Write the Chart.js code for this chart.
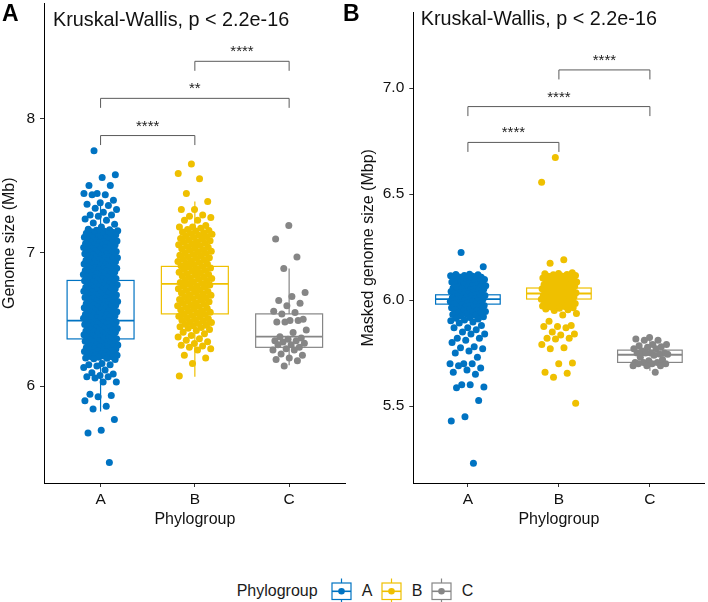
<!DOCTYPE html>
<html>
<head>
<meta charset="utf-8">
<script src="https://cdn.jsdelivr.net/npm/chart.js"></script>
<style>
  html, body { margin: 0; padding: 0; background: #fff; }
  body { width: 708px; height: 602px; position: relative; overflow: hidden; font-family: "Liberation Sans", Arial, sans-serif; }
  canvas { position: absolute; top: 0; }
  #panelA { left: 0; }
  #panelB { left: 354px; }
  .tag { position: absolute; font-weight: bold; font-size: 23px; line-height: 23px; color: #000; }
  .leg { position: absolute; font-size: 16px; line-height: 16px; color: #1a1a1a; white-space: nowrap; }
  .key { position: absolute; }
</style>
</head>
<body>
<canvas id="panelA" width="354" height="530"></canvas>
<canvas id="panelB" width="354" height="530"></canvas>
<div class="tag" style="left:2px;top:2.2px">A</div>
<div class="tag" style="left:343px;top:2.2px">B</div>
<div id="legend"></div>
<script>
// categories + colours (jco palette)
const groups = ["A", "B", "C"];
const groupColors = ["#0073C2", "#EFC000", "#868686"];

// panel A: genome size (Mb), one array per phylogroup
const genomeA = [
  7.76, 7.58, 7.56, 7.50, 7.50, 7.44, 7.44, 7.43, 7.43, 7.39, 7.37, 7.36, 7.35, 7.33, 7.32, 7.30, 7.28, 7.28,
  7.27, 7.25, 7.24, 7.22, 7.21, 7.19,
  7.172, 7.168, 7.165, 7.161, 7.157, 7.154, 7.150, 7.146, 7.143, 7.139, 7.135, 7.132, 7.128, 7.124, 7.121,
  7.117, 7.113, 7.110, 7.106, 7.102, 7.099, 7.095, 7.091, 7.088, 7.084, 7.080, 7.077, 7.073, 7.069, 7.066,
  7.062, 7.058, 7.055, 7.051, 7.047, 7.044, 7.040, 7.036, 7.033, 7.029, 7.025, 7.022, 7.018, 7.014, 7.011,
  7.007, 7.003, 7.000, 6.996, 6.992, 6.989, 6.985, 6.981, 6.978, 6.974, 6.970, 6.967, 6.963, 6.959, 6.956,
  6.952, 6.948, 6.945, 6.941, 6.937, 6.934, 6.930, 6.926, 6.923, 6.919, 6.915, 6.912, 6.908, 6.904, 6.901,
  6.897, 6.893, 6.890, 6.886, 6.882, 6.879, 6.875, 6.871, 6.868, 6.864, 6.860, 6.857, 6.853, 6.849, 6.846,
  6.842, 6.838, 6.835, 6.831, 6.827, 6.824, 6.820, 6.816, 6.813, 6.809, 6.805, 6.802, 6.798, 6.794, 6.791,
  6.787, 6.783, 6.780, 6.776, 6.772, 6.769, 6.765, 6.761, 6.758, 6.754, 6.750, 6.747, 6.743, 6.739, 6.736,
  6.732, 6.728, 6.725, 6.721, 6.717, 6.714, 6.710, 6.706, 6.703, 6.699, 6.695, 6.692, 6.688, 6.684, 6.681,
  6.677, 6.673, 6.670, 6.666, 6.662, 6.659, 6.655, 6.651, 6.648, 6.644, 6.640, 6.637, 6.633, 6.629, 6.626,
  6.622, 6.618, 6.615, 6.611, 6.607, 6.604, 6.600, 6.596, 6.593, 6.589, 6.585, 6.582, 6.578, 6.574, 6.571,
  6.567, 6.563, 6.560, 6.556, 6.552, 6.549, 6.545, 6.541, 6.538, 6.534, 6.530, 6.527, 6.523, 6.519, 6.516,
  6.512, 6.508, 6.505, 6.501, 6.497, 6.494, 6.490, 6.486, 6.483, 6.479, 6.475, 6.472, 6.468, 6.464, 6.461,
  6.457, 6.453, 6.450, 6.446, 6.442, 6.439, 6.435, 6.431, 6.428, 6.424, 6.420, 6.417, 6.413, 6.409, 6.406,
  6.402, 6.398, 6.395, 6.391, 6.387, 6.384, 6.380, 6.376, 6.373, 6.369, 6.365, 6.362, 6.358, 6.354, 6.351,
  6.347, 6.343, 6.340, 6.336, 6.332, 6.329, 6.325, 6.321, 6.318, 6.314, 6.310, 6.307, 6.303, 6.299, 6.296,
  6.292, 6.288, 6.285, 6.281, 6.277, 6.274, 6.270, 6.266, 6.263, 6.259, 6.255, 6.252, 6.248, 6.244, 6.241,
  6.237, 6.233, 6.230, 6.226, 6.222, 6.219, 6.215, 6.211, 6.208, 6.204, 6.200,
  6.17, 6.16, 6.16, 6.15, 6.14, 6.12, 6.10, 6.09, 6.08, 6.07, 6.07, 6.06, 6.03, 6.03, 5.94, 5.93, 5.92,
  5.89, 5.85, 5.83, 5.75, 5.67, 5.65, 5.43
];
const genomeB = [
  7.66, 7.59, 7.55, 7.44, 7.38, 7.32, 7.32, 7.28, 7.27, 7.26, 7.24, 7.24, 7.20, 7.19, 7.19, 7.18,
  7.170, 7.164, 7.159, 7.152, 7.147, 7.140, 7.135, 7.128, 7.123, 7.116, 7.111, 7.104, 7.099, 7.092, 7.087,
  7.080, 7.075, 7.068, 7.063, 7.056, 7.051, 7.044, 7.039, 7.032, 7.027, 7.020, 7.015, 7.008, 7.003, 6.996,
  6.991, 6.984, 6.979, 6.972, 6.967, 6.960, 6.955, 6.948, 6.943, 6.936, 6.931, 6.924, 6.919, 6.912, 6.907,
  6.900, 6.895, 6.888, 6.883, 6.876, 6.871, 6.864, 6.859, 6.852, 6.847, 6.840, 6.835, 6.828, 6.823, 6.816,
  6.811, 6.804, 6.799, 6.792, 6.787, 6.780, 6.775, 6.768, 6.763, 6.756, 6.751, 6.744, 6.739, 6.732, 6.727,
  6.720, 6.715, 6.708, 6.703, 6.696, 6.691, 6.684, 6.679, 6.672, 6.667, 6.660, 6.655, 6.648, 6.643, 6.636,
  6.631, 6.624, 6.619, 6.612, 6.607, 6.600, 6.595, 6.588, 6.583, 6.576, 6.571, 6.564, 6.559, 6.552, 6.547,
  6.540, 6.535, 6.528, 6.523, 6.516, 6.511, 6.504, 6.499, 6.492, 6.487, 6.480, 6.475, 6.468, 6.463, 6.456,
  6.451, 6.444, 6.439, 6.432, 6.424, 6.415, 6.403, 6.391, 6.379, 6.367, 6.355, 6.343, 6.331, 6.319, 6.305,
  6.30, 6.29, 6.28, 6.27, 6.23, 6.21, 6.17, 6.075
];
const genomeC = [
  7.20, 7.10, 6.965, 6.88, 6.70, 6.67, 6.64, 6.62, 6.60, 6.56, 6.55, 6.54, 6.50, 6.49, 6.48, 6.49, 6.48,
  6.42, 6.40, 6.37, 6.36, 6.35, 6.34, 6.34, 6.33, 6.32, 6.31, 6.31, 6.29, 6.28, 6.27, 6.27, 6.24, 6.23,
  6.21, 6.20, 6.19, 6.15
];
// box stats per phylogroup: [lower whisker, q1, median, q3, upper whisker]
const genomeBoxes = [
  [5.81, 6.353, 6.49, 6.79, 7.39],
  [6.07, 6.54, 6.765, 6.895, 7.38],
  [6.157, 6.29, 6.37, 6.54, 6.88]
];
const genomeTicks = [6, 7, 8];
const genomeTests = [
  { from: 1, to: 2, y: 7.873, label: "****" },
  { from: 1, to: 3, y: 8.151, label: "**" },
  { from: 2, to: 3, y: 8.428, label: "****" }
];

// panel B: masked genome size (Mbp)
const maskedA = [
  6.224, 6.157, 6.122,
  6.121, 6.119, 6.116, 6.115, 6.112, 6.109, 6.108, 6.105, 6.103, 6.101, 6.098, 6.097, 6.094, 6.092, 6.090,
  6.088, 6.085, 6.084, 6.081, 6.079, 6.077, 6.074, 6.073, 6.070, 6.068, 6.066, 6.063, 6.062, 6.059, 6.057,
  6.055, 6.052, 6.051, 6.048, 6.046, 6.044, 6.041, 6.040, 6.037, 6.035, 6.033, 6.030, 6.029, 6.026, 6.024,
  6.022, 6.019, 6.018, 6.015, 6.013, 6.011, 6.008, 6.007, 6.004, 6.002, 6.000, 5.997, 5.996, 5.993, 5.991,
  5.989, 5.986, 5.985, 5.982, 5.980, 5.978, 5.975, 5.974, 5.971, 5.969, 5.967, 5.964, 5.963, 5.960, 5.958,
  5.956, 5.953, 5.951, 5.948, 5.946, 5.943, 5.940, 5.938, 5.935, 5.932, 5.929, 5.925, 5.922, 5.918, 5.914,
  5.911, 5.906, 5.902, 5.897, 5.892,
  5.88, 5.87, 5.87, 5.86, 5.85, 5.84, 5.84, 5.82, 5.82, 5.81, 5.80, 5.78, 5.775, 5.77, 5.76, 5.75, 5.73,
  5.70, 5.70, 5.70, 5.69, 5.68, 5.67, 5.66, 5.65, 5.60, 5.59, 5.60, 5.586, 5.526, 5.45, 5.43, 5.23
];
const maskedB = [
  6.673, 6.556, 6.19, 6.174,
  6.129, 6.126, 6.124, 6.121, 6.119, 6.116, 6.114, 6.112, 6.109, 6.107, 6.104, 6.102, 6.100, 6.097, 6.095,
  6.092, 6.090, 6.088, 6.085, 6.083, 6.080, 6.078, 6.076, 6.073, 6.071, 6.068, 6.066, 6.064, 6.061, 6.059,
  6.056, 6.054, 6.052, 6.049, 6.047, 6.044, 6.042, 6.040, 6.037, 6.035, 6.032, 6.030, 6.028, 6.025, 6.023,
  6.020, 6.018, 6.016, 6.013, 6.011, 6.008, 6.006, 6.004, 6.001, 5.999, 5.996, 5.994, 5.992, 5.989, 5.987,
  5.984, 5.982, 5.980, 5.977, 5.975, 5.972, 5.970, 5.967, 5.964, 5.961, 5.958, 5.955, 5.951,
  5.937, 5.93, 5.90, 5.88, 5.875, 5.875, 5.87, 5.85, 5.84, 5.835, 5.82, 5.82, 5.816, 5.79, 5.775, 5.77,
  5.703, 5.70, 5.66, 5.655, 5.636, 5.513
];
const maskedC = [
  5.824, 5.816, 5.81, 5.81, 5.79, 5.79, 5.785, 5.78, 5.777, 5.77, 5.77, 5.76, 5.75, 5.75, 5.75, 5.746,
  5.75, 5.745, 5.74, 5.73, 5.72, 5.714, 5.706, 5.706, 5.706, 5.70, 5.70, 5.70, 5.69, 5.69, 5.69, 5.66
];
const maskedBoxes = [
  [5.93, 5.981, 6.005, 6.025, 6.09],
  [5.97, 6.005, 6.031, 6.057, 6.11],
  [5.667, 5.706, 5.742, 5.764, 5.817]
];
const maskedTicks = [5.5, 6.0, 6.5, 7.0];
const maskedTests = [
  { from: 1, to: 2, y: 6.744, label: "****" },
  { from: 1, to: 3, y: 6.913, label: "****" },
  { from: 2, to: 3, y: 7.086, label: "****" }
];

const testTitle = "Kruskal-Wallis, p < 2.2e-16";
const FONT = '"Liberation Sans", Arial, Helvetica, sans-serif';

// deterministic horizontal spread for the jittered points
function jitter(j) {
  return ((j * 0.6180339887 + 0.31) % 1) * 2 - 1;
}

function boxPlugin(stats) {
  return {
    id: "boxes",
    beforeDatasetsDraw(chart) {
      const { ctx } = chart;
      const x = chart.scales.x, y = chart.scales.y;
      stats.forEach((s, i) => {
        const [lo, q1, med, q3, hi] = s;
        const cx = x.getPixelForValue(i + 1);
        const hw = x.getPixelForValue(i + 1.355) - cx;
        const top = y.getPixelForValue(q3), bot = y.getPixelForValue(q1);
        ctx.save();
        ctx.strokeStyle = groupColors[i];
        ctx.lineWidth = 1.2;
        ctx.beginPath();
        ctx.moveTo(cx, y.getPixelForValue(hi));
        ctx.lineTo(cx, top);
        ctx.moveTo(cx, bot);
        ctx.lineTo(cx, y.getPixelForValue(lo));
        ctx.stroke();
        ctx.fillStyle = "#fff";
        ctx.fillRect(cx - hw, top, hw * 2, bot - top);
        ctx.strokeRect(cx - hw, top, hw * 2, bot - top);
        const m = y.getPixelForValue(med);
        ctx.lineWidth = 1.8;
        ctx.beginPath();
        ctx.moveTo(cx - hw, m);
        ctx.lineTo(cx + hw, m);
        ctx.stroke();
        ctx.restore();
      });
    }
  };
}

function notePlugin(tests, titleDx, titleBase) {
  return {
    id: "notes",
    afterDatasetsDraw(chart) {
      const { ctx, chartArea } = chart;
      const x = chart.scales.x, y = chart.scales.y;
      ctx.save();
      tests.forEach(t => {
        const x1 = x.getPixelForValue(t.from), x2 = x.getPixelForValue(t.to);
        const yp = y.getPixelForValue(t.y);
        ctx.strokeStyle = "#5a5a5a";
        ctx.lineWidth = 1;
        ctx.beginPath();
        ctx.moveTo(x1, yp + 9.5);
        ctx.lineTo(x1, yp);
        ctx.lineTo(x2, yp);
        ctx.lineTo(x2, yp + 9.5);
        ctx.stroke();
        ctx.fillStyle = "#222";
        ctx.font = "15px " + FONT;
        ctx.textAlign = "center";
        ctx.textBaseline = "alphabetic";
        ctx.fillText(t.label, (x1 + x2) / 2, yp - 5);
      });
      ctx.fillStyle = "#111";
      ctx.font = "19.8px " + FONT;
      ctx.textAlign = "left";
      ctx.fillText(testTitle, chartArea.left + titleDx, titleBase);
      ctx.restore();
    }
  };
}

function makePanel(id, p) {
  const datasets = p.values.map((vals, i) => ({
    data: vals.map((v, j) => ({ x: i + 1 + p.jitterW * jitter(j + 5 * i), y: v })),
    backgroundColor: groupColors[i],
    borderWidth: 0,
    pointRadius: 3.5,
    pointHoverRadius: 3.5
  }));
  return new Chart(document.getElementById(id), {
    type: "scatter",
    data: { datasets },
    options: {
      responsive: false,
      animation: false,
      devicePixelRatio: 1,
      layout: { padding: { left: 0, right: p.padRight, top: p.padTop, bottom: 0 } },
      plugins: { legend: { display: false }, tooltip: { enabled: false } },
      scales: {
        x: {
          type: "linear",
          min: 0.4,
          max: 3.6,
          afterBuildTicks: s => { s.ticks = [1, 2, 3].map(v => ({ value: v })); },
          ticks: {
            callback: v => groups[v - 1],
            autoSkip: false,
            maxRotation: 0,
            padding: 3,
            color: "#111",
            font: { family: FONT, size: 15.5 }
          },
          grid: { drawOnChartArea: false, drawTicks: true, tickLength: 4, color: "#333" },
          border: { display: true, color: "#000", width: 1 },
          title: {
            display: true,
            text: "Phylogroup",
            color: "#111",
            font: { family: FONT, size: 16 },
            padding: { top: 0, bottom: 1 }
          },
          afterFit: s => { s.height = 47; s.paddingLeft = 0; s.paddingRight = 0; }
        },
        y: {
          min: p.yMin,
          max: p.yMax,
          afterBuildTicks: s => { s.ticks = p.yTicks.map(v => ({ value: v })); },
          ticks: {
            callback: v => v.toFixed(p.digits),
            padding: 5,
            color: "#111",
            font: { family: FONT, size: 15.5 }
          },
          grid: { drawOnChartArea: false, drawTicks: true, tickLength: 4, color: "#333" },
          border: { display: true, color: "#000", width: 1 },
          title: {
            display: true,
            text: p.yTitle,
            color: "#111",
            font: { family: FONT, size: 16 },
            padding: { top: p.yTitlePad, bottom: 0 }
          },
          afterFit: s => { s.width = p.yWidth; s.paddingTop = 0; s.paddingBottom = 0; }
        }
      }
    },
    plugins: [boxPlugin(p.boxes), notePlugin(p.tests, p.titleDx, p.titleBase)]
  });
}

makePanel("panelA", {
  values: [genomeA, genomeB, genomeC],
  boxes: genomeBoxes,
  tests: genomeTests,
  yTicks: genomeTicks,
  digits: 0,
  yMin: 5.276,
  yMax: 8.86,
  yTitle: "Genome size (Mb)",
  yTitlePad: 0,
  yWidth: 44,
  padTop: 3,
  padRight: 8.3,
  jitterW: 0.183,
  titleDx: 9,
  titleBase: 25.5
});

makePanel("panelB", {
  values: [maskedA, maskedB, maskedC],
  boxes: maskedBoxes,
  tests: maskedTests,
  yTicks: maskedTicks,
  digits: 1,
  yMin: 5.137,
  yMax: 7.356,
  yTitle: "Masked genome size (Mbp)",
  yTitlePad: 4.8,
  yWidth: 59.3,
  padTop: 12.7,
  padRight: 1.7,
  jitterW: 0.197,
  titleDx: 7.4,
  titleBase: 25
});

// shared legend under both panels
(function buildLegend() {
  const host = document.getElementById("legend");
  const title = document.createElement("div");
  title.className = "leg";
  title.style.left = "236.7px";
  title.style.top = "582.5px";
  title.textContent = "Phylogroup";
  host.appendChild(title);
  groups.forEach((g, i) => {
    const left = 331.7 + i * 50;
    const c = groupColors[i];
    const key = document.createElementNS("http://www.w3.org/2000/svg", "svg");
    key.setAttribute("class", "key");
    key.setAttribute("width", "21");
    key.setAttribute("height", "26");
    key.style.left = (left - 1) + "px";
    key.style.top = "577.5px";
    key.innerHTML =
      '<line x1="10.5" y1="0.5" x2="10.5" y2="25.5" stroke="' + c + '" stroke-width="1.2"/>' +
      '<rect x="1" y="5" width="19" height="16.5" fill="#fff" stroke="' + c + '" stroke-width="1.2"/>' +
      '<line x1="1" y1="13.3" x2="20" y2="13.3" stroke="' + c + '" stroke-width="1.6"/>' +
      '<circle cx="10.5" cy="13.3" r="3.3" fill="' + c + '"/>';
    host.appendChild(key);
    const lab = document.createElement("div");
    lab.className = "leg";
    lab.style.left = (left + 30) + "px";
    lab.style.top = "582.5px";
    lab.textContent = g;
    host.appendChild(lab);
  });
})();
</script>
</body>
</html>
